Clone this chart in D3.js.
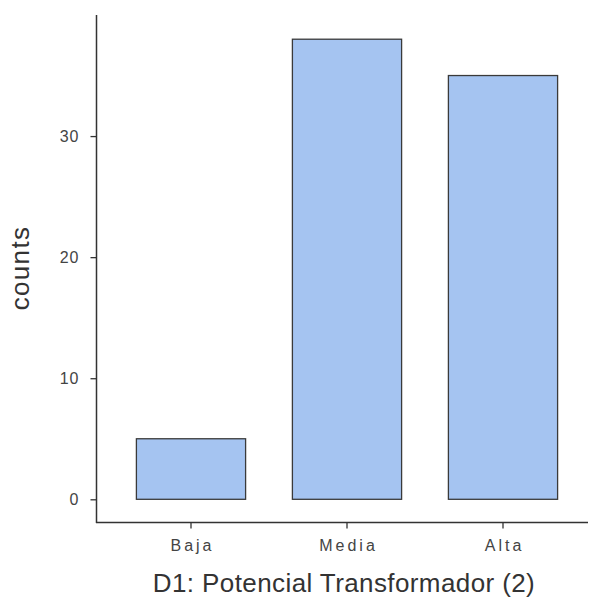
<!DOCTYPE html>
<html><head><meta charset="utf-8">
<script src="https://cdn.jsdelivr.net/npm/d3@7"></script>
<style>body{margin:0;background:#fff;} text{font-family:"Liberation Sans",Arial,sans-serif;}</style>
</head><body>
<svg id="c" width="590" height="608"></svg>
<script>
const categories = ["Baja", "Media", "Alta"];
const counts = [5, 38, 35];
const yTicks = [0, 10, 20, 30];
const xTitle = "D1: Potencial Transformador (2)";
const yTitle = "counts";

const svg = d3.select("#c");
const x = d3.scaleBand().domain(categories).range([113, 581]).paddingInner(0.3).paddingOuter(0.15);
const y = d3.scaleLinear().domain([0, 40]).range([499.3, 15]);

svg.selectAll("rect.bar").data(categories).join("rect")
  .attr("class", "bar")
  .attr("x", d => x(d))
  .attr("width", x.bandwidth())
  .attr("y", (d, i) => y(counts[i]))
  .attr("height", (d, i) => y(0) - y(counts[i]))
  .attr("fill", "#a5c4f1")
  .attr("stroke", "#3a3a3a")
  .attr("stroke-width", 1.3);

// y axis
const ya = svg.append("g").attr("transform", "translate(96.5,0)")
  .call(d3.axisLeft(y).tickValues(yTicks).tickSize(6).tickPadding(11));
ya.select(".domain").attr("d", `M0,${y(40)}V523`).attr("stroke", "#333").attr("stroke-width", 1.5);
ya.selectAll(".tick line").attr("stroke", "#333").attr("stroke-width", 1.3);
ya.selectAll(".tick text").attr("fill", "#444").style("font-size", "16px").style("letter-spacing", "1px").style("font-family", "Liberation Sans, Arial, sans-serif");

// x axis
const xa = svg.append("g").attr("transform", "translate(0,522.5)")
  .call(d3.axisBottom(x).tickSize(6).tickPadding(11));
xa.select(".domain").attr("d", "M96,0H588").attr("stroke", "#333").attr("stroke-width", 1.5);
xa.selectAll(".tick line").attr("stroke", "#333").attr("stroke-width", 1.3);
xa.selectAll(".tick text").attr("fill", "#444").style("font-size", "16px").style("letter-spacing", "3px").attr("dx", "1.5px").style("font-family", "Liberation Sans, Arial, sans-serif");

svg.append("text").attr("x", 344).attr("y", 592).attr("text-anchor", "middle")
  .attr("fill", "#333").style("font-size", "26px").style("letter-spacing", "0.4px").text(xTitle);
svg.append("text").attr("transform", "translate(29,268) rotate(-90)").attr("text-anchor", "middle")
  .attr("fill", "#333").style("font-size", "26px").style("letter-spacing", "1.3px").text(yTitle);
</script>
</body></html>
